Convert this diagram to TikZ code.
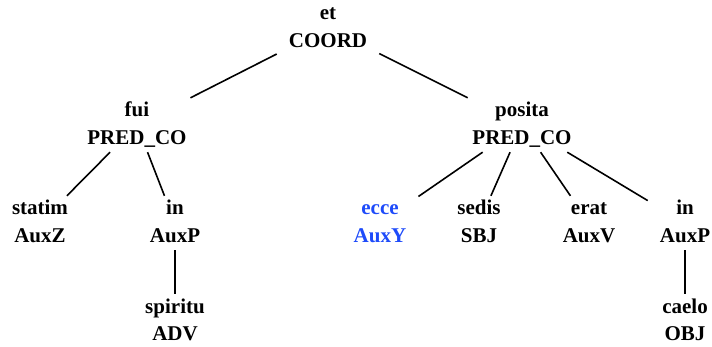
\documentclass[tikz,border=0pt]{standalone}
\usepackage{fontspec}
\setmainfont{Liberation Serif}
\definecolor{auxblue}{RGB}{30,75,250}
\newcommand{\TopStrut}{\rule{0pt}{15pt}}
\newcommand{\BotStrut}{\rule[-3pt]{0pt}{3pt}}
\newcommand{\tn}[2]{\TopStrut#1\\#2\BotStrut}
\tikzset{
  tnode/.style={rectangle, align=center, inner xsep=12pt, inner ysep=4pt,
    font=\fontsize{21}{28}\selectfont\bfseries},
  edge/.style={draw=black, line width=1.6pt}
}
\begin{document}
\begin{tikzpicture}[x=1pt,y=1pt]
\useasboundingbox (0,0) rectangle (712,-347);
\node[tnode] (coord)   at (328,-28)  {\tn{et}{COORD}};
\node[tnode] (fui)     at (137,-125) {\tn{fui}{PRED\_CO}};
\node[tnode] (posita)  at (522,-125) {\tn{posita}{PRED\_CO}};
\node[tnode] (statim)  at (40,-223)  {\tn{statim}{AuxZ}};
\node[tnode] (inL)     at (175,-223) {\tn{in}{AuxP}};
\node[tnode] (spiritu) at (175,-321) {\tn{spiritu}{ADV}};
\node[tnode, text=auxblue] (ecce) at (380,-223) {\tn{ecce}{AuxY}};
\node[tnode] (sedis)   at (479,-223) {\tn{sedis}{SBJ}};
\node[tnode] (erat)    at (589,-223) {\tn{erat}{AuxV}};
\node[tnode] (inR)     at (685,-223) {\tn{in}{AuxP}};
\node[tnode] (caelo)   at (685,-321) {\tn{caelo}{OBJ}};
\draw[edge] (coord) -- (fui);
\draw[edge] (coord) -- (posita);
\draw[edge] (fui) -- (statim);
\draw[edge] (fui) -- (inL);
\draw[edge] (inL) -- (spiritu);
\draw[edge] (posita) -- (ecce);
\draw[edge] (posita) -- (sedis);
\draw[edge] (posita) -- (erat);
\draw[edge] (posita) -- (inR);
\draw[edge] (inR) -- (caelo);
\end{tikzpicture}
\end{document}
